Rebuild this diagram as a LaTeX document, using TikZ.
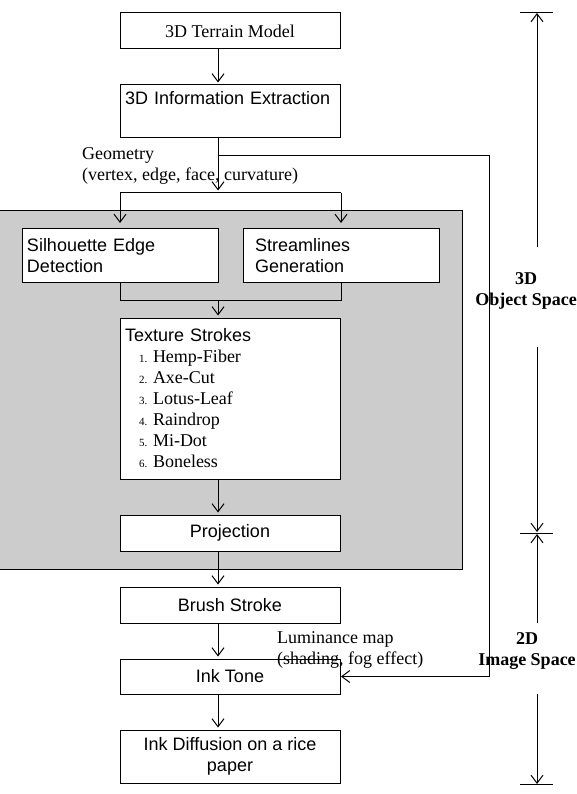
\documentclass[tikz,border=0pt]{standalone}
\usepackage{fontspec}
\setmainfont{Liberation Serif}
\setsansfont{Liberation Sans}
\usetikzlibrary{positioning,arrows.meta,fit,backgrounds}

\newcommand{\strokeitem}[2]{\hspace*{14pt}\makebox[14pt][l]{\rmfamily\fontsize{11}{13}\selectfont #1.}{\rmfamily #2}}

\begin{document}
\begin{tikzpicture}[
  x=1pt, y=-1pt,
  font=\fontsize{18}{21}\selectfont,
  node distance=36pt and 25pt,
  box/.style={draw, line width=1pt, fill=white, align=center,
              font=\fontsize{18}{21}\selectfont\sffamily,
              minimum width=220pt, inner sep=5pt, outer sep=0pt},
  boxl/.style={box, align=left, text width=#1, minimum width=0pt},
  serifbox/.style={box, font=\fontsize{18}{21}\selectfont\rmfamily},
  panel/.style={draw, line width=1pt, fill=black!20, inner xsep=23pt, inner ysep=18pt},
  lbl/.style={align=left, inner sep=0pt},
  side/.style={align=center, inner sep=0pt, font=\fontsize{18}{21}\selectfont\bfseries},
  arr/.style={-{Straight Barb[length=8pt,width=12pt]}, line width=1pt, shorten >=2.5pt},
  wire/.style={line width=1pt},
]
\useasboundingbox (0,0) rectangle (577,794);

% --- 3D input ---
\node[serifbox, minimum height=36pt] (terrain) at (230,31) {3D Terrain Model};
\node[boxl=210pt, minimum height=53pt, below=of terrain] (info) {3D Information Extraction\\\strut};

% --- object space stages ---
\node[boxl=186pt, minimum height=53pt, below=91pt of info.south west] (sil) {Silhouette Edge\\Detection};
\node[boxl=172pt, inner xsep=12pt, minimum height=53pt, right=of sil] (stream) {Streamlines\\Generation};
\node[boxl=210pt, minimum height=161pt, below=180pt of info] (texture) {%
  Texture Strokes\\
  \strokeitem{1}{Hemp-Fiber}\\
  \strokeitem{2}{Axe-Cut}\\
  \strokeitem{3}{Lotus-Leaf}\\
  \strokeitem{4}{Raindrop}\\
  \strokeitem{5}{Mi-Dot}\\
  \strokeitem{6}{Boneless}};
\node[box, minimum height=36pt, below=of texture] (proj) {Projection};

% --- image space stages ---
\node[box, minimum height=36pt, below=of proj] (brush) {Brush Stroke};
\node[box, minimum height=35pt, below=of brush] (ink) {Ink Tone};
\node[box, minimum height=53pt, below=of ink] (diff) {Ink Diffusion on a rice\\paper};

% --- labels ---
\node[lbl, anchor=west] (geom) at (82,166) {Geometry\\(vertex, edge, face, curvature)};
\node[lbl, anchor=west] (lum) at (277,650) {Luminance map\\(shading, fog effect)};
\node[side] (obj) at (526,291) {3D\\Object Space};
\node[side] (img) at (527,651) {2D\\Image Space};

% --- object space panel ---
\begin{pgfonlayer}{background}
  \node[panel, fit=(sil)(stream)(proj)] (objpanel) {};
\end{pgfonlayer}

% --- helper points ---
\coordinate (tap) at (218,156);
\coordinate (fork) at (218,193);
\coordinate (merge) at (218,300);
\coordinate (rail) at (489,156);
\coordinate (dimtop) at (537,13);
\coordinate (dimmid) at (537,533);
\coordinate (dimbot) at (537,784);
\coordinate (objtop) at (537,247);
\coordinate (objbot) at (537,347);
\coordinate (imgtop) at (537,623);
\coordinate (imgbot) at (537,694);

% --- Edges (downward dataflow) ---
\draw[arr] (terrain.south -| fork) -- (info.north -| fork);
\draw[arr] (info.south -| fork) -- (fork);
\draw[wire] (fork -| sil.north) -- (fork -| stream.north);
\draw[arr, shorten >=6pt] (fork -| sil.north) -- (sil.north);
\draw[arr, shorten >=6pt] (fork -| stream.north) -- (stream.north);
\draw[wire] (sil.south) |- (merge -| stream.south) -- (stream.south);
\draw[arr] (merge) -- (texture.north -| merge);
\draw[arr] (texture.south -| merge) -- (proj.north -| merge);
\draw[arr] (proj.south -| merge) -- (brush.north -| merge);
\draw[arr] (brush.south -| merge) -- (ink.north -| merge);
\draw[arr] (ink.south -| merge) -- (diff.north -| merge);
\draw[arr, shorten >=1pt] (tap) -- (rail) -- (rail |- ink.east) -- (ink.east);

% --- space dimensions ---
\draw[wire] ([xshift=-17pt]dimtop) -- ([xshift=16pt]dimtop);
\draw[wire] ([xshift=-17pt]dimmid) -- ([xshift=16pt]dimmid);
\draw[wire] ([xshift=-17pt]dimbot) -- ([xshift=16pt]dimbot);
\draw[arr, shorten >=0pt] (objtop) -- (dimtop);
\draw[arr, shorten >=1pt] (objbot) -- (dimmid);
\draw[arr, shorten >=1pt] (imgtop) -- (dimmid);
\draw[arr, shorten >=0pt] (imgbot) -- (dimbot);

\end{tikzpicture}
\end{document}
